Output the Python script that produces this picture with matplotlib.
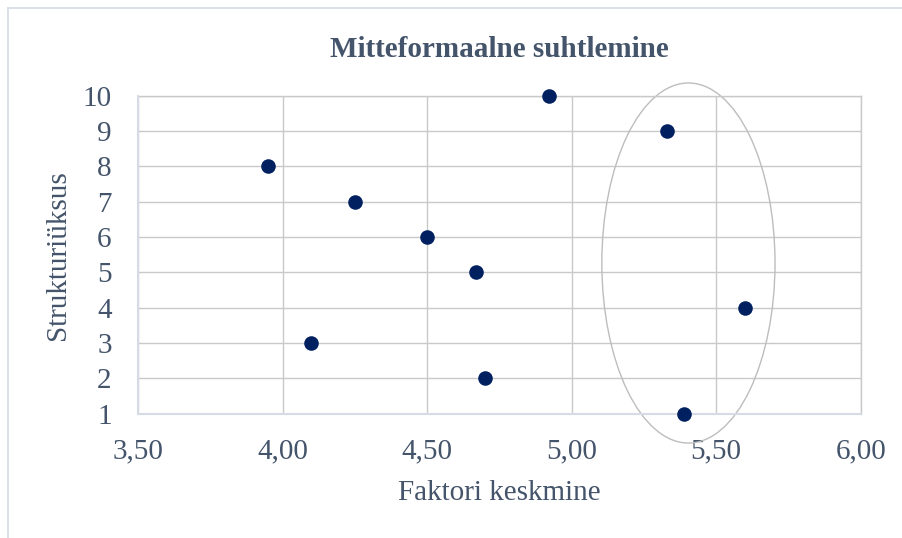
import matplotlib
matplotlib.use("Agg")
import matplotlib.pyplot as plt
from matplotlib.patches import Ellipse
from matplotlib.lines import Line2D

# Data
factor_mean = [5.39, 4.70, 4.10, 5.60, 4.67, 4.50, 4.25, 3.95, 5.33, 4.92]
unit = [1, 2, 3, 4, 5, 6, 7, 8, 9, 10]
x_ticks = [3.50, 4.00, 4.50, 5.00, 5.50, 6.00]
x_tick_labels = ["3,50", "4,00", "4,50", "5,00", "5,50", "6,00"]
y_ticks = [1, 2, 3, 4, 5, 6, 7, 8, 9, 10]
title = "Mitteformaalne suhtlemine"
x_label = "Faktori keskmine"
y_label = "Strukturiüksus"

TXT = "#44546A"
GRID = "#C9C9C9"
AXIS = "#D6DCE5"
DOT = "#002060"

plt.rcParams["font.family"] = ["Liberation Serif", "DejaVu Serif"]

fig = plt.figure(figsize=(9.03, 5.38), dpi=100)
ax = fig.add_axes([0.1528, 0.2310, 0.8004, 0.5911])

ax.scatter(factor_mean, unit, s=110, color=DOT, zorder=4, linewidths=0, clip_on=False)

ax.set_xlim(3.5, 6.0)
ax.set_ylim(1, 10)
ax.set_xticks(x_ticks)
ax.set_xticklabels(x_tick_labels)
ax.set_yticks(y_ticks)

ax.grid(True, color=GRID, linewidth=1.0, zorder=0)
ax.set_axisbelow(True)
for s in ["top", "right"]:
    ax.spines[s].set_color(GRID)
    ax.spines[s].set_linewidth(1.0)
for s in ["left", "bottom"]:
    ax.spines[s].set_color(AXIS)
    ax.spines[s].set_linewidth(1.5)
    ax.spines[s].set_zorder(3)

ax.tick_params(axis="both", length=0, labelsize=21, colors=TXT)
ax.tick_params(axis="y", pad=19)
ax.tick_params(axis="x", pad=18)

ax.set_xlabel(x_label, fontsize=21, color=TXT, labelpad=11)
ax.set_ylabel(y_label, fontsize=21, color=TXT, labelpad=8)
ax.set_title(title, fontsize=21, fontweight="bold", color=TXT, pad=28)

# Highlight ellipse annotation
ell = Ellipse((5.404, 5.265), width=0.599, height=10.19, fill=False,
              edgecolor="#BDBDBD", linewidth=1.0, clip_on=False, zorder=2)
ax.add_patch(ell)

# Chart frame border (partially visible)
fig.add_artist(Line2D([8/903, 8/903], [0, 1 - 8/538], transform=fig.transFigure,
                      color=AXIS, linewidth=1.2))
fig.add_artist(Line2D([8/903, 1], [1 - 8/538, 1 - 8/538], transform=fig.transFigure,
                      color=AXIS, linewidth=1.2))

fig.savefig("out.png", dpi=100)
